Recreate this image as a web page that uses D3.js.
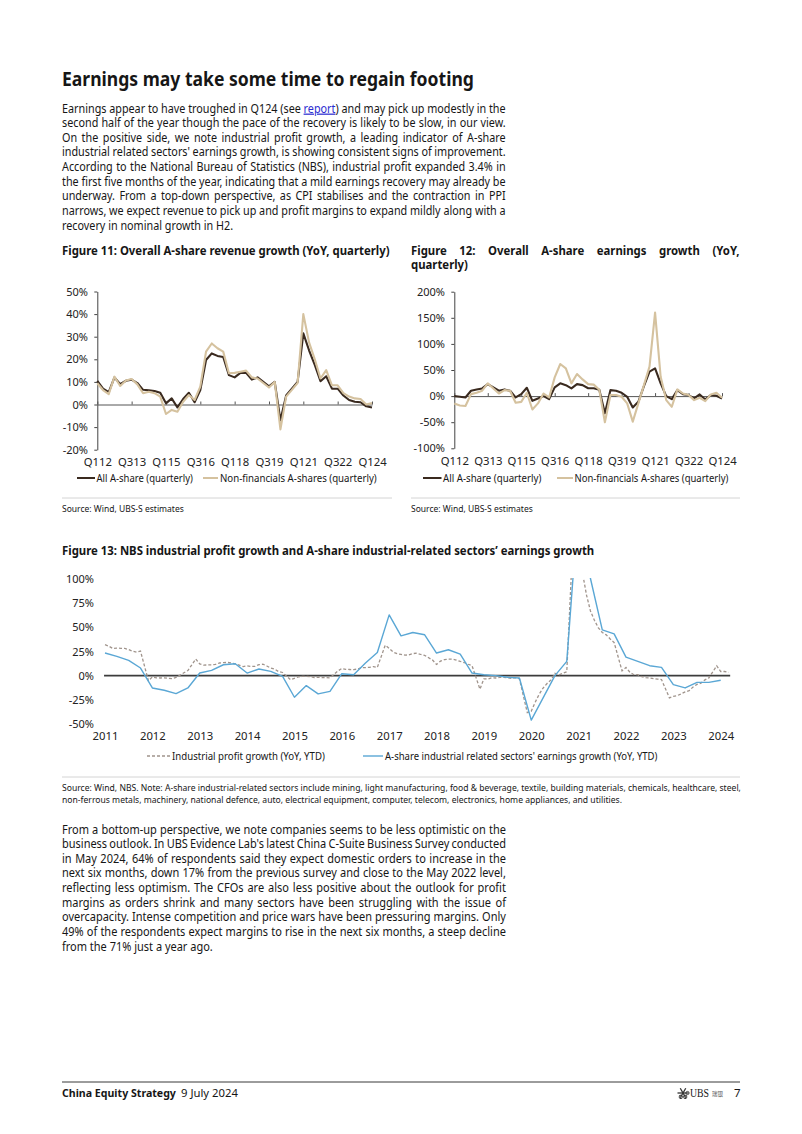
<!DOCTYPE html>
<html><head><meta charset="utf-8">
<script src="https://cdn.jsdelivr.net/npm/d3@7"></script>
<style>
body{margin:0;background:#fff}
svg text{font-family:'Noto Sans',sans-serif}
</style></head>
<body><svg id="page" width="802" height="1134"></svg>
<script>
// ---------------- DATA ----------------
const qLabels = ["Q112","Q212","Q312","Q412","Q113","Q213","Q313","Q413","Q114","Q214","Q314","Q414",
"Q115","Q215","Q315","Q415","Q116","Q216","Q316","Q416","Q117","Q217","Q317","Q417",
"Q118","Q218","Q318","Q418","Q119","Q219","Q319","Q419","Q120","Q220","Q320","Q420",
"Q121","Q221","Q321","Q421","Q122","Q222","Q322","Q422","Q123","Q223","Q323","Q423","Q124"];
const qTickLabels = ["Q112","Q313","Q115","Q316","Q118","Q319","Q121","Q322","Q124"];

// Figure 11: revenue growth (YoY, quarterly), %
const revAll = [10.5,7,5.5,12,9,10.5,11,9.5,6.5,6.3,6,5.2,0.5,2.7,-1.3,2.4,5.2,1,6.4,19.7,22.6,21.5,21,13,
12,14,14,11,12,10,8,10,-7,4,7,10,31.5,24,17.5,10.3,12.5,7,7,4,2,1.2,1,-0.8,-1.3];
const revNonFin = [9.4,6.4,4.6,12.3,8.2,10.6,11.3,8.9,5,5.6,5,3.5,-4.2,-2.4,-3.2,1.2,4.2,2,7.9,23.4,27,24.9,23.4,13.8,
14,14.5,15,12,11.5,9.5,7.5,10,-11,3.5,6.5,9.5,40,27.5,20,11.5,15.2,8.5,8.5,5,3.5,2.7,2.4,0,0.6];
const revTicks = [-20,-10,0,10,20,30,40,50];

// Figure 12: earnings growth (YoY, quarterly), %
const earnAll = [0,-1.3,-2.6,10.3,12.8,14.7,23,16.7,10.3,12.8,10.3,-2.6,3.8,16,-9,-4.5,0,-5.8,16.7,24.4,
21,14.7,23,21,15,15,12,-33,11.5,10.3,6.4,-1.3,-21.8,-11,19.2,46.8,53,24.4,0,-5.8,11.5,3.8,2,-4.5,3.2,-6.4,2,0.6,-4.5];
const earnNonFin = [-14,-18,-19,3.8,6.4,10.3,24.4,14.7,5,11.5,10.3,-12.8,-11,6.4,-25.6,-14,5,-2.6,35.9,61.5,
53,24.4,42.3,32,23,22,12,-50,2,2,-1.3,-14,-49,-14,21,56.4,160,37,-7.7,-20.5,12.8,5,2,-7.7,-3.2,-9.6,3.2,6.4,-3.2];
const earnTicks = [-100,-50,0,50,100,150,200];

// Figure 13: NBS industrial profit growth (YoY, YTD, monthly), %
const profitDates = [
"2011-03","2011-04","2011-05","2011-06","2011-07","2011-08","2011-09","2011-10","2011-11","2011-12",
"2012-02","2012-03","2012-04","2012-05","2012-06","2012-07","2012-08","2012-09","2012-10","2012-11","2012-12",
"2013-02","2013-03","2013-04","2013-05","2013-06","2013-07","2013-08","2013-09","2013-10","2013-11","2013-12",
"2014-02","2014-03","2014-04","2014-05","2014-06","2014-07","2014-08","2014-09","2014-10","2014-11","2014-12",
"2015-02","2015-03","2015-04","2015-05","2015-06","2015-07","2015-08","2015-09","2015-10","2015-11","2015-12",
"2016-02","2016-03","2016-04","2016-05","2016-06","2016-07","2016-08","2016-09","2016-10","2016-11","2016-12",
"2017-02","2017-03","2017-04","2017-05","2017-06","2017-07","2017-08","2017-09","2017-10","2017-11","2017-12",
"2018-02","2018-03","2018-04","2018-05","2018-06","2018-07","2018-08","2018-09","2018-10","2018-11","2018-12",
"2019-02","2019-03","2019-04","2019-05","2019-06","2019-07","2019-08","2019-09","2019-10","2019-11","2019-12",
"2020-02","2020-03","2020-04","2020-05","2020-06","2020-07","2020-08","2020-09","2020-10","2020-11","2020-12",
"2021-02","2021-03","2021-04","2021-05","2021-06","2021-07","2021-08","2021-09","2021-10","2021-11","2021-12",
"2022-02","2022-03","2022-04","2022-05","2022-06","2022-07","2022-08","2022-09","2022-10","2022-11","2022-12",
"2023-02","2023-03","2023-04","2023-05","2023-06","2023-07","2023-08","2023-09","2023-10","2023-11","2023-12",
"2024-02","2024-03","2024-04","2024-05"];
const profitValues = [
32,30.5,28,28.5,28.3,28.2,27,25.3,24.4,25.4,
-5.2,-1.3,-2.2,-2.4,-2.2,-2.7,-3.1,-1.8,0.5,3.0,5.3,
17.2,12.1,10.9,11.1,11.1,11.6,13.1,13.5,13.7,13.2,12.2,
9.4,10.1,9.6,9.6,11.4,11.9,10.0,7.9,6.7,4.2,3.3,
-4.2,-2.7,-1.3,-0.8,-0.7,-1.0,-1.9,-1.7,-2.0,-1.9,-2.3,
4.8,7.4,6.5,6.4,6.2,6.9,8.4,8.4,8.6,9.4,8.5,
31.5,28.3,24.4,22.7,22.0,21.2,21.6,22.8,23.3,21.9,21.0,
16.1,11.6,15.0,16.5,17.2,17.1,16.2,14.7,13.6,11.8,10.3,
-14.0,-3.3,-3.4,-2.3,-2.4,-1.7,-1.7,-2.1,-2.9,-2.1,-3.3,
-38.3,-36.7,-27.4,-19.3,-12.8,-8.1,-4.4,2.4,0.7,2.4,4.1,
178.9,137.3,106.0,83.4,66.9,57.3,49.5,44.7,42.2,38.0,34.3,
5.0,8.5,3.5,1.0,1.0,-1.1,-2.1,-2.3,-3.0,-3.6,-4.0,
-22.9,-21.4,-20.6,-18.8,-16.8,-15.5,-11.7,-9.0,-7.8,-4.4,-2.3,
10.2,4.3,4.3,3.4];

// Figure 13: A-share industrial related sectors' earnings growth (YoY, YTD, quarterly), %
const indQuarters = [
"2011Q1","2011Q2","2011Q3","2011Q4","2012Q1","2012Q2","2012Q3","2012Q4","2013Q1","2013Q2","2013Q3","2013Q4",
"2014Q1","2014Q2","2014Q3","2014Q4","2015Q1","2015Q2","2015Q3","2015Q4","2016Q1","2016Q2","2016Q3","2016Q4",
"2017Q1","2017Q2","2017Q3","2017Q4","2018Q1","2018Q2","2018Q3","2018Q4","2019Q1","2019Q2","2019Q3","2019Q4",
"2020Q1","2020Q2","2020Q3","2020Q4","2021Q1","2021Q2","2021Q3","2021Q4","2022Q1","2022Q2","2022Q3","2022Q4",
"2023Q1","2023Q2","2023Q3","2023Q4","2024Q1"];
const indValues = [23.4,20,15.8,7.9,-12.7,-15.1,-18.6,-12.7,2.7,5.5,11.3,12.4,
2.7,6.9,4.5,-0.7,-22.3,-10.3,-18.9,-16.2,2,1,13,24,
62.9,41.2,44.7,42.3,23.4,26.8,22.3,2.7,1,0,-1.7,-2.4,
-46,-23,0,14.8,179.6,100.5,47.4,43.3,19.2,14.8,10.3,8.6,
-9.3,-12.7,-6.9,-6.9,-4.8];
const yearTicks = [2011,2012,2013,2014,2015,2016,2017,2018,2019,2020,2021,2022,2023,2024];
const fig13Ticks = [-50,-25,0,25,50,75,100];

// ---------------- TEXT ----------------
const headline = "Earnings may take some time to regain footing";
const para1 = [
"Earnings appear to have troughed in Q124 (see [report]) and may pick up modestly in the",
"second half of the year though the pace of the recovery is likely to be slow, in our view.",
"On the positive side, we note industrial profit growth, a leading indicator of A-share",
"industrial related sectors' earnings growth, is showing consistent signs of improvement.",
"According to the National Bureau of Statistics (NBS), industrial profit expanded 3.4% in",
"the first five months of the year, indicating that a mild earnings recovery may already be",
"underway. From a top-down perspective, as CPI stabilises and the contraction in PPI",
"narrows, we expect revenue to pick up and profit margins to expand mildly along with a",
"recovery in nominal growth in H2."];
const para2 = [
"From a bottom-up perspective, we note companies seems to be less optimistic on the",
"business outlook. In UBS Evidence Lab's latest China C-Suite Business Survey conducted",
"in May 2024, 64% of respondents said they expect domestic orders to increase in the",
"next six months, down 17% from the previous survey and close to the May 2022 level,",
"reflecting less optimism. The CFOs are also less positive about the outlook for profit",
"margins as orders shrink and many sectors have been struggling with the issue of",
"overcapacity. Intense competition and price wars have been pressuring margins. Only",
"49% of the respondents expect margins to rise in the next six months, a steep decline",
"from the 71% just a year ago."];
const sourceNote = [
"Source: Wind, NBS. Note: A-share industrial-related sectors include mining, light manufacturing, food & beverage, textile, building materials, chemicals, healthcare, steel,",
"non-ferrous metals, machinery, national defence, auto, electrical equipment, computer, telecom, electronics, home appliances, and utilities."];

// ---------------- HELPERS ----------------
const svg = d3.select('#page');
const INK = '#161616';
const DARK = '#3a2a1f', LIGHT = '#d5c29f', BLUE = '#5aa7d5', DASH = '#a0948c';

function makeText(parent, str, x, y, size, weight, fill) {
  const t = parent.append('text').attr('x', x).attr('y', y)
    .attr('font-size', size).attr('font-weight', weight || 400).attr('fill', fill || INK);
  str.split(/(\[[^\]]+\])/).forEach(p => {
    if (!p) return;
    if (p[0] === '[') t.append('tspan').text(p.slice(1, -1)).attr('fill', '#2b2bd0').attr('text-decoration', 'underline');
    else t.append('tspan').text(p);
  });
  return t;
}
// single line, scaled horizontally to a given width (or by a given factor)
function fitText(parent, str, x, y, o) {
  const g = parent.append('g');
  const t = makeText(g, str, 0, 0, o.size, o.weight, o.fill);
  if (o.family) t.style('font-family', o.family);
  let sx = o.sx || 1;
  if (o.width) sx = o.width / t.node().getComputedTextLength();
  g.attr('transform', `translate(${x},${y}) scale(${sx},1)`);
  return sx;
}
// justified block: every flagged line stretched to width with word spacing
function paragraph(lines, x, y0, lh, width, size, weight, justifyFlags, fixedSx) {
  const g = svg.append('g');
  const ts = lines.map((l, i) => makeText(g, l, 0, i * lh, size, weight));
  const ws = ts.map(t => t.node().getComputedTextLength());
  const flags = justifyFlags || lines.map((l, i) => i < lines.length - 1);
  const mean = d3.mean(ws.filter((w, i) => flags[i]));
  const sx = fixedSx || (width * 0.985) / mean;
  g.attr('transform', `translate(${x},${y0}) scale(${sx},1)`);
  ts.forEach((t, i) => {
    if (!flags[i]) return;
    const n = (lines[i].match(/ /g) || []).length;
    if (n) t.style('word-spacing', ((width / sx - ws[i]) / n) + 'px');
  });
  return sx;
}
function styleAxis(g, size) {
  g.selectAll('text').attr('font-size', size).attr('fill', '#222');
  g.selectAll('path,line').attr('stroke', '#444');
}
function hline(x1, x2, y, color, w) {
  svg.append('line').attr('x1', x1).attr('x2', x2).attr('y1', y).attr('y2', y)
    .attr('stroke', color).attr('stroke-width', w);
}

// ---------------- TEXT BLOCKS ----------------
fitText(svg, headline, 62, 86, {size: 19.5, weight: 700, width: 412});
paragraph(para1, 62, 112.5, 14.63, 444, 12.3, 400);

const titleSx = fitText(svg, "Figure 11: Overall A-share revenue growth (YoY, quarterly)", 62, 254.5, {size: 12, weight: 700, width: 328});
paragraph(["Figure 12: Overall A-share earnings growth (YoY,", "quarterly)"], 411, 254.5, 14.5, 329, 12, 700, [true, false], titleSx);
fitText(svg, "Figure 13: NBS industrial profit growth and A-share industrial-related sectors\u2019 earnings growth", 62, 555, {size: 12, weight: 700, width: 533});

// ---------------- FIGURE 11 ----------------
const x11 = d3.scalePoint().domain(qLabels).range([97.3, 372]);
const y11 = d3.scaleLinear().domain([-20, 50]).range([449.7, 291.5]);
function quarterChart(x, y, ticks, allVals, nonVals, axisX, labelRight) {
  const ya = svg.append('g').attr('transform', `translate(${axisX},0)`)
    .call(d3.axisLeft(y).tickValues(ticks).tickFormat(d => d + '%').tickSize(3).tickSizeOuter(0).tickPadding(axisX - labelRight - 3));
  styleAxis(ya, 11);
  const za = svg.append('g').attr('transform', `translate(0,${y(0)})`)
    .call(d3.axisTop(x).tickValues(qTickLabels).tickFormat('').tickSize(3).tickSizeOuter(0));
  za.selectAll('path,line').attr('stroke', '#555');
  const xa = svg.append('g').attr('transform', `translate(0,${y.range()[0]})`)
    .call(d3.axisBottom(x).tickValues(qTickLabels).tickSize(0));
  xa.select('.domain').remove();
  xa.selectAll('text').attr('dy', null).attr('y', 16.8).attr('font-size', 11.3).attr('fill', '#222');
  const line = d3.line().x((d, i) => x(qLabels[i])).y(d => y(d));
  svg.append('path').datum(allVals).attr('d', line).attr('fill', 'none').attr('stroke', DARK).attr('stroke-width', 2.1).attr('stroke-linejoin', 'round');
  svg.append('path').datum(nonVals).attr('d', line).attr('fill', 'none').attr('stroke', LIGHT).attr('stroke-width', 2.1).attr('stroke-linejoin', 'round');
}
quarterChart(x11, y11, revTicks, revAll, revNonFin, 97.3, 88);

// ---------------- FIGURE 12 ----------------
const x12 = d3.scalePoint().domain(qLabels).range([454.3, 722]);
const y12 = d3.scaleLinear().domain([-100, 200]).range([448.3, 291.7]);
quarterChart(x12, y12, earnTicks, earnAll, earnNonFin, 454.3, 445);

// legends 11 / 12
function qLegend(d1, t1, d2, t2) {
  hline(d1[0], d1[1], 478, DARK, 2);
  fitText(svg, "All A-share (quarterly)", t1[0], 482, {size: 10.5, width: t1[1] - t1[0]});
  hline(d2[0], d2[1], 478, LIGHT, 2);
  fitText(svg, "Non-financials A-shares (quarterly)", t2[0], 482, {size: 10.5, width: t2[1] - t2[0]});
}
qLegend([77, 95], [96.5, 193], [203, 218], [220, 377]);
qLegend([423, 441.5], [443, 541.5], [557, 573], [574.5, 728.5]);

hline(62, 392, 498, '#d4d4d4', 1);
hline(411, 740, 498, '#d4d4d4', 1);
fitText(svg, "Source: Wind, UBS-S estimates", 62, 512, {size: 8.6, width: 122});
fitText(svg, "Source: Wind, UBS-S estimates", 411, 512, {size: 8.6, width: 122});

// ---------------- FIGURE 13 ----------------
const tMonth = s => +s.slice(0, 4) + (+s.slice(5, 7) - 3) / 12;
const tQuarter = s => +s.slice(0, 4) + (+s.slice(5) - 1) / 4;
const x13 = d3.scaleLinear().domain([2011, 2024]).range([105, 720.7]);
const y13 = d3.scaleLinear().domain([-50, 100]).range([724, 579]);

svg.append('clipPath').attr('id', 'clip13').append('rect')
  .attr('x', 60).attr('y', y13(100) - 1).attr('width', 700).attr('height', 170);

const ya13 = svg.append('g').attr('transform', 'translate(94,0)')
  .call(d3.axisLeft(y13).tickValues(fig13Ticks).tickFormat(d => d + '%').tickSize(0).tickPadding(0));
ya13.select('.domain').remove();
styleAxis(ya13, 11);
const xa13 = svg.append('g').attr('transform', `translate(0,${y13(-50)})`)
  .call(d3.axisBottom(x13).tickValues(yearTicks).tickFormat(d3.format('d')).tickSize(0));
xa13.select('.domain').remove();
xa13.selectAll('text').attr('dy', null).attr('y', 16).attr('font-size', 11.3).attr('fill', '#222');

svg.append('line').attr('x1', x13(2010.98)).attr('x2', x13(2024.2)).attr('y1', y13(0)).attr('y2', y13(0))
  .attr('stroke', '#3c3c3c').attr('stroke-width', 1.8);

const plot13 = svg.append('g').attr('clip-path', 'url(#clip13)');
const profitLine = d3.line().x((d, i) => x13(tMonth(profitDates[i]))).y(d => y13(d));
plot13.append('path').datum(profitValues).attr('d', profitLine).attr('fill', 'none')
  .attr('stroke', DASH).attr('stroke-width', 1.3).attr('stroke-dasharray', '3,2');
const indLine = d3.line().x((d, i) => x13(tQuarter(indQuarters[i]))).y(d => y13(d));
plot13.append('path').datum(indValues).attr('d', indLine).attr('fill', 'none')
  .attr('stroke', BLUE).attr('stroke-width', 1.4).attr('stroke-linejoin', 'round');

// legend 13
svg.append('line').attr('x1', 147).attr('x2', 170).attr('y1', 756).attr('y2', 756)
  .attr('stroke', DASH).attr('stroke-width', 1.3).attr('stroke-dasharray', '3,2');
fitText(svg, "Industrial profit growth (YoY, YTD)", 172, 760, {size: 10.5, width: 153});
hline(363, 383, 756, BLUE, 1.4);
fitText(svg, "A-share industrial related sectors' earnings growth (YoY, YTD)", 385, 760, {size: 10.5, width: 273});

hline(62, 740, 777, '#d4d4d4', 1);
const noteSx = fitText(svg, sourceNote[0], 62, 791, {size: 8.4, width: 678});
fitText(svg, sourceNote[1], 62, 803, {size: 8.4, sx: noteSx});

// ---------------- PARAGRAPH 2 ----------------
paragraph(para2, 62, 833.5, 14.63, 444, 12.3, 400);

// ---------------- FOOTER ----------------
hline(62, 740, 1082, '#222', 0.9);
fitText(svg, "China Equity Strategy", 62, 1097, {size: 11, weight: 700, width: 114});
fitText(svg, "9 July 2024", 181, 1097, {size: 11, width: 57});
const logo = svg.append('g').attr('transform', 'translate(683,1093)');
[0, 60, 120].forEach(a => {
  logo.append('line').attr('x1', -5.5).attr('x2', 5.5).attr('y1', 0).attr('y2', 0)
    .attr('stroke', '#333').attr('stroke-width', 1.3).attr('transform', `rotate(${a})`);
  logo.append('circle').attr('r', 1.6).attr('fill', 'none').attr('stroke', '#333').attr('stroke-width', 0.9)
    .attr('transform', `rotate(${a}) translate(4.5,0)`);
});
fitText(svg, "UBS", 690, 1097, {size: 11.5, family: "'Liberation Serif', serif", width: 19});
fitText(svg, "\u745e\u94f6", 712, 1096, {size: 5.5, family: "'Noto Sans CJK SC', sans-serif", fill: '#555'});
fitText(svg, "7", 734, 1097, {size: 11.5});
</script></body></html>
